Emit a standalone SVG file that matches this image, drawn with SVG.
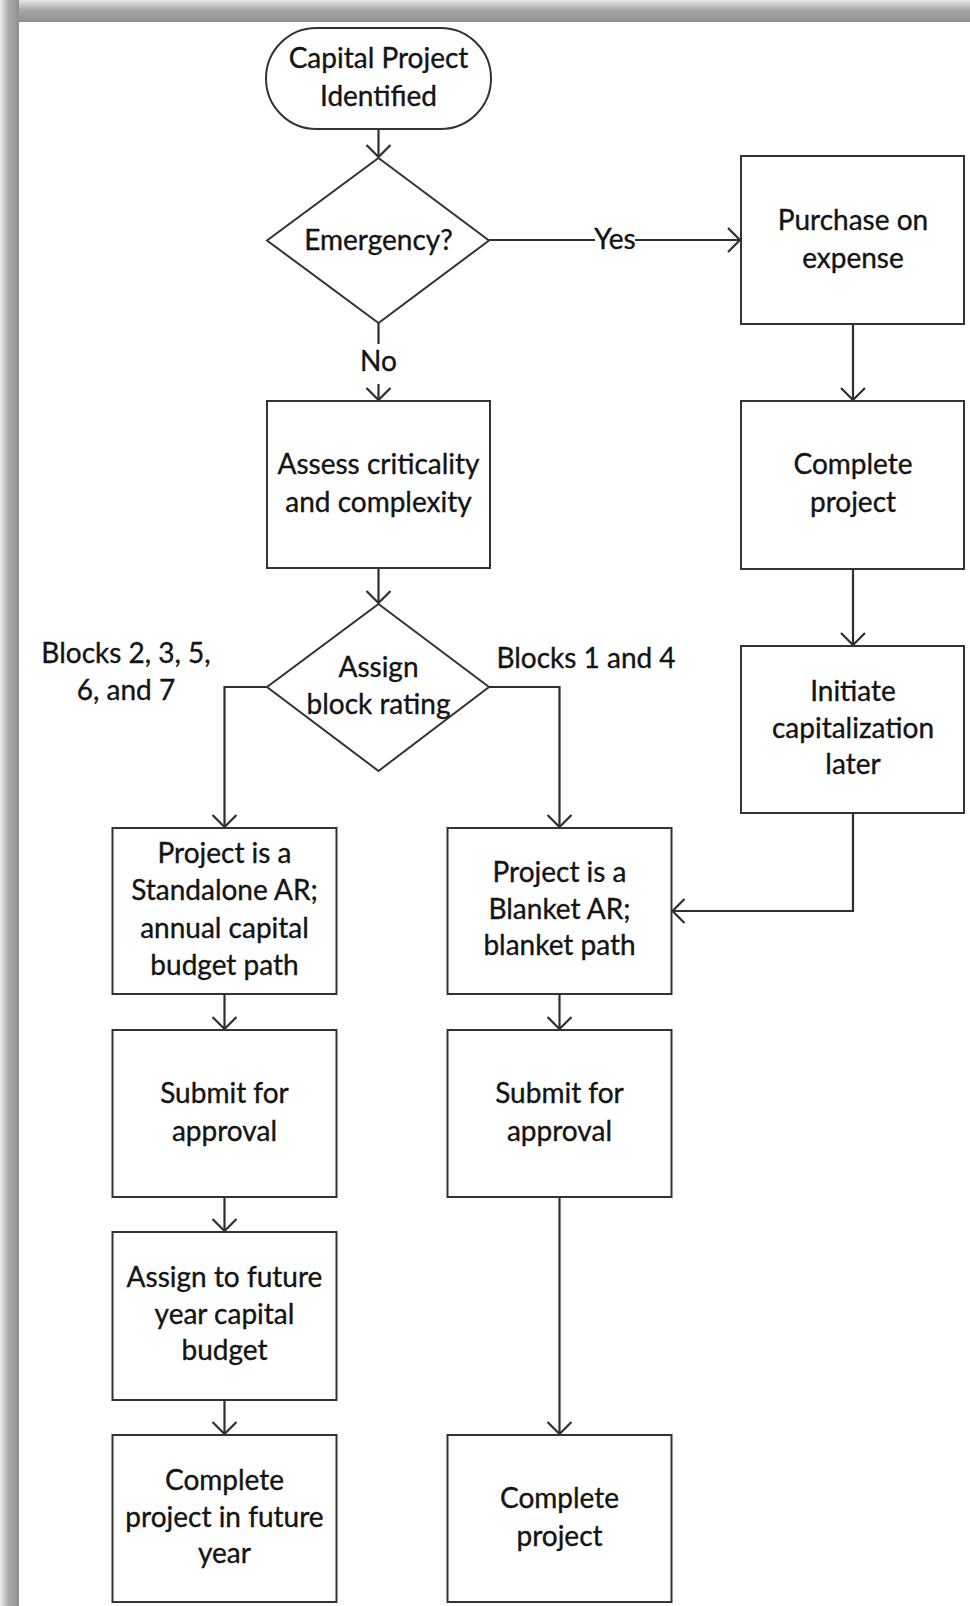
<svg xmlns="http://www.w3.org/2000/svg" width="970" height="1606" viewBox="0 0 970 1606">
  <style>
    .box { fill: #ffffff; stroke: #333333; stroke-width: 2; }
    .lbl { font-family: Lato, "Liberation Sans", sans-serif; font-size: 28px; fill: #141414; stroke: #141414; stroke-width: 0.35; text-anchor: middle; }
    .edge { fill: none; stroke: #2e2e2e; stroke-width: 2.2; }
    .tag { fill: #ffffff; }
  </style>
  <defs>
    <linearGradient id="shadeTop" x1="0" y1="0" x2="0" y2="1">
      <stop offset="0" stop-color="#e8e8e8"/>
      <stop offset="0.45" stop-color="#a8a8a8"/>
      <stop offset="1" stop-color="#8e8e8e"/>
    </linearGradient>
    <linearGradient id="shadeLeft" x1="0" y1="0" x2="1" y2="0">
      <stop offset="0" stop-color="#ececec"/>
      <stop offset="0.45" stop-color="#ababab"/>
      <stop offset="1" stop-color="#8e8e8e"/>
    </linearGradient>
    <marker id="arrow" markerUnits="userSpaceOnUse" markerWidth="28" markerHeight="30" viewBox="-14 -15 28 30" refX="0" refY="0" orient="auto">
      <path d="M-12,-12 L0,0 L-12,12" fill="none" stroke="#2e2e2e" stroke-width="2.2"/>
    </marker>
  </defs>

  <!-- page with drop shadow along top and left edges -->
  <rect x="0" y="0" width="970" height="1606" fill="#ffffff"/>
  <rect x="0" y="0" width="970" height="22" fill="url(#shadeTop)"/>
  <rect x="0" y="0" width="19" height="1606" fill="url(#shadeLeft)"/>

  <!-- connectors -->
  <g id="connectors">
    <path class="edge" d="M378.5,129 L378.5,157" marker-end="url(#arrow)"/>
    <path class="edge" d="M489,240 L740,240" marker-end="url(#arrow)"/>
    <path class="edge" d="M378.5,323 L378.5,400" marker-end="url(#arrow)"/>
    <path class="edge" d="M853,324 L853,400" marker-end="url(#arrow)"/>
    <path class="edge" d="M853,569 L853,645" marker-end="url(#arrow)"/>
    <path class="edge" d="M853,813 L853,911 L672.5,911" marker-end="url(#arrow)"/>
    <path class="edge" d="M378.5,568 L378.5,603" marker-end="url(#arrow)"/>
    <path class="edge" d="M267,687 L224.5,687 L224.5,827" marker-end="url(#arrow)"/>
    <path class="edge" d="M489,687 L559.5,687 L559.5,827" marker-end="url(#arrow)"/>
    <path class="edge" d="M224.5,994 L224.5,1029" marker-end="url(#arrow)"/>
    <path class="edge" d="M224.5,1197 L224.5,1231" marker-end="url(#arrow)"/>
    <path class="edge" d="M224.5,1400 L224.5,1434" marker-end="url(#arrow)"/>
    <path class="edge" d="M559.5,994 L559.5,1029" marker-end="url(#arrow)"/>
    <path class="edge" d="M559.5,1197 L559.5,1434" marker-end="url(#arrow)"/>

    <!-- edge labels -->
    <rect class="tag" x="595" y="226" width="40" height="28"/>
    <text class="lbl" x="615" y="249">Yes</text>
    <rect class="tag" x="362" y="344" width="33" height="40"/>
    <text class="lbl" x="378.5" y="371">No</text>
    <text class="lbl" x="586" y="668">Blocks 1 and 4</text>
    <text class="lbl" x="126" y="663">Blocks 2, 3, 5,</text>
    <text class="lbl" x="126" y="700">6, and 7</text>
  </g>

  <g id="start">
    <rect class="box" x="266" y="28" width="225" height="101" rx="50.5" ry="50.5"/>
    <text class="lbl" x="378.5" y="68">Capital Project</text>
    <text class="lbl" x="378.5" y="106">Identified</text>
  </g>

  <g id="emergency">
    <polygon class="box" points="378.5,158 489,240.5 378.5,323 267,240.5"/>
    <text class="lbl" x="378.5" y="250">Emergency?</text>
  </g>

  <g id="purchase">
    <rect class="box" x="741" y="156" width="223" height="168"/>
    <text class="lbl" x="853" y="230">Purchase on</text>
    <text class="lbl" x="853" y="268">expense</text>
  </g>

  <g id="assess">
    <rect class="box" x="267" y="401" width="223" height="167"/>
    <text class="lbl" x="378.5" y="474">Assess criticality</text>
    <text class="lbl" x="378.5" y="512">and complexity</text>
  </g>

  <g id="complete-expense">
    <rect class="box" x="741" y="401" width="223" height="168"/>
    <text class="lbl" x="853" y="474">Complete</text>
    <text class="lbl" x="853" y="512">project</text>
  </g>

  <g id="initiate">
    <rect class="box" x="741" y="646" width="223" height="167"/>
    <text class="lbl" x="853" y="701">Initiate</text>
    <text class="lbl" x="853" y="738">capitalization</text>
    <text class="lbl" x="853" y="774">later</text>
  </g>

  <g id="block-rating">
    <polygon class="box" points="378.5,604 489,687 378.5,771 267,687"/>
    <text class="lbl" x="378.5" y="677">Assign</text>
    <text class="lbl" x="378.5" y="714">block rating</text>
  </g>

  <g id="standalone">
    <rect class="box" x="112.5" y="828" width="224" height="166"/>
    <text class="lbl" x="224.5" y="863">Project is a</text>
    <text class="lbl" x="224.5" y="900">Standalone AR;</text>
    <text class="lbl" x="224.5" y="938">annual capital</text>
    <text class="lbl" x="224.5" y="975">budget path</text>
  </g>

  <g id="blanket">
    <rect class="box" x="447.5" y="828" width="224" height="166"/>
    <text class="lbl" x="559.5" y="882">Project is a</text>
    <text class="lbl" x="559.5" y="919">Blanket AR;</text>
    <text class="lbl" x="559.5" y="955">blanket path</text>
  </g>

  <g id="submit-standalone">
    <rect class="box" x="112.5" y="1030" width="224" height="167"/>
    <text class="lbl" x="224.5" y="1103">Submit for</text>
    <text class="lbl" x="224.5" y="1141">approval</text>
  </g>

  <g id="submit-blanket">
    <rect class="box" x="447.5" y="1030" width="224" height="167"/>
    <text class="lbl" x="559.5" y="1103">Submit for</text>
    <text class="lbl" x="559.5" y="1141">approval</text>
  </g>

  <g id="assign-future">
    <rect class="box" x="112.5" y="1232" width="224" height="168"/>
    <text class="lbl" x="224.5" y="1287">Assign to future</text>
    <text class="lbl" x="224.5" y="1324">year capital</text>
    <text class="lbl" x="224.5" y="1360">budget</text>
  </g>

  <g id="complete-future">
    <rect class="box" x="112.5" y="1435" width="224" height="167"/>
    <text class="lbl" x="224.5" y="1490">Complete</text>
    <text class="lbl" x="224.5" y="1527">project in future</text>
    <text class="lbl" x="224.5" y="1563">year</text>
  </g>

  <g id="complete-blanket">
    <rect class="box" x="447.5" y="1435" width="224" height="167"/>
    <text class="lbl" x="559.5" y="1508">Complete</text>
    <text class="lbl" x="559.5" y="1546">project</text>
  </g>
</svg>
